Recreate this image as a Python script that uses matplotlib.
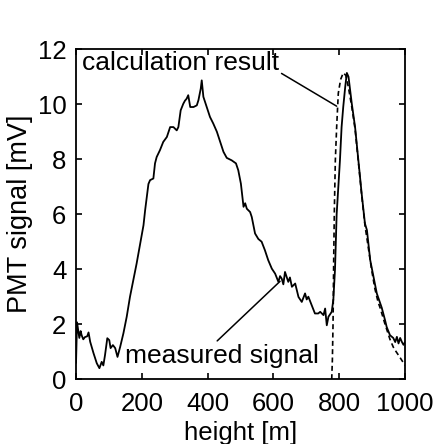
import matplotlib
matplotlib.use('Agg')
import matplotlib.pyplot as plt

plt.rcParams['font.family'] = ['Liberation Sans', 'DejaVu Sans']
plt.rcParams['font.size'] = 18.5

# measured PMT signal
meas_h = [0, 3, 10, 14, 17, 22, 27, 34, 38, 43, 53, 63, 71, 78, 83, 88, 95,
          101, 105, 112, 119, 126, 134, 144, 154, 164, 174, 184, 195, 205, 210,
          220, 225, 235, 240, 245, 255, 265, 276, 286, 296, 306, 311, 318, 326,
          331, 336, 341, 347, 357, 367, 372, 379, 382, 387, 397, 407, 417, 428,
          438, 448, 458, 473, 486, 493, 501, 509, 514, 519, 529, 534, 544, 554,
          564, 574, 584, 595, 605, 615, 620, 625, 630, 635, 645, 650, 656, 666,
          676, 686, 696, 701, 706, 716, 726, 736, 742, 752, 757, 762, 767, 777,
          782, 787, 792, 802, 807, 812, 818, 823, 828, 838, 848, 858, 868, 878,
          884, 894, 904, 914, 929, 939, 944, 954, 964, 970, 975, 980, 985, 990,
          995, 1000]
meas_v = [0.6, 2.07, 1.5, 1.75, 1.6, 1.45, 1.53, 1.56, 1.7, 1.36, 0.95, 0.58,
          0.4, 0.63, 0.5, 0.87, 1.49, 1.42, 1.13, 1.24, 1.13, 0.81, 1.17, 1.67,
          2.27, 3.0, 3.6, 4.2, 4.94, 5.6, 6.15, 7.1, 7.24, 7.3, 7.85, 8.08,
          8.33, 8.63, 8.81, 9.17, 9.17, 9.05, 9.17, 9.78, 10.02, 10.13, 10.2,
          10.33, 9.9, 9.9, 9.96, 10.15, 10.57, 10.87, 10.27, 9.9, 9.54, 9.3,
          9.0, 8.63, 8.27, 8.05, 7.96, 7.85, 7.6, 7.11, 6.27, 6.4, 6.2, 6.08,
          5.9, 5.3, 5.1, 5.0, 4.69, 4.33, 4.02, 3.84, 3.54, 3.75, 3.66, 3.45,
          3.9, 3.54, 3.7, 3.36, 3.48, 2.99, 2.81, 3.12, 2.9, 3.0, 2.69, 2.39,
          2.39, 2.45, 2.33, 2.57, 1.96, 2.27, 2.45, 2.9, 4.0, 6.0, 7.96, 9.17,
          9.9, 10.63, 11.14, 11.0, 10.02, 9.17, 7.96, 6.75, 5.66, 5.42, 4.33,
          3.72, 3.12, 2.6, 2.15, 1.9, 1.6, 1.5, 1.35, 1.54, 1.3, 1.5, 1.36,
          1.25, 1.35]

# calculation result
calc_h = [777, 779, 781, 783, 785, 788, 792, 797, 804, 812, 820, 828, 838, 848,
          858, 868, 878, 888, 898, 908, 918, 924, 939, 954, 964, 970, 985, 1000]
calc_v = [0, 0.7, 2.0, 4.33, 6.15, 7.96, 9.17, 10.4, 10.9, 11.14, 11.05, 10.6,
          9.9, 9.1, 7.9, 6.7, 5.6, 4.8, 4.0, 3.3, 2.8, 2.6, 2.0, 1.45, 1.17,
          1.05, 0.78, 0.5]

fig = plt.figure(figsize=(4.37, 4.44), dpi=100)
ax = fig.add_axes([0.174, 0.146, 0.753, 0.743])

ax.plot(meas_h, meas_v, color='black', lw=1.3)
ax.plot(calc_h, calc_v, color='black', lw=1.2, linestyle=(0, (3, 2)))

ax.set_xlim(0, 1000)
ax.set_ylim(0, 12)
ax.set_xticks([0, 200, 400, 600, 800, 1000])
ax.set_yticks([0, 2, 4, 6, 8, 10, 12])
ax.tick_params(direction='in', top=True, right=True, length=4, width=1.2,
               pad=7)
ax.tick_params(axis='x', pad=9)
for s in ax.spines.values():
    s.set_linewidth(1.3)

ax.set_xlabel('height [m]', labelpad=4)
ax.set_ylabel('PMT signal [mV]', fontsize=19.5, labelpad=3)

ax.annotate('calculation result', xy=(792, 9.93), xytext=(17, 11.95),
            ha='left', va='top', fontsize=19,
            arrowprops=dict(arrowstyle='-', color='black', lw=1.1,
                            relpos=(1.0, 0.12), shrinkA=0, shrinkB=0))
ax.annotate('measured signal', xy=(620, 3.56), xytext=(149, 0.6),
            ha='left', va='baseline', fontsize=19,
            arrowprops=dict(arrowstyle='-', color='black', lw=1.1,
                            relpos=(0.46, 1.0), shrinkA=0, shrinkB=0))

fig.savefig('out.png', dpi=100)
